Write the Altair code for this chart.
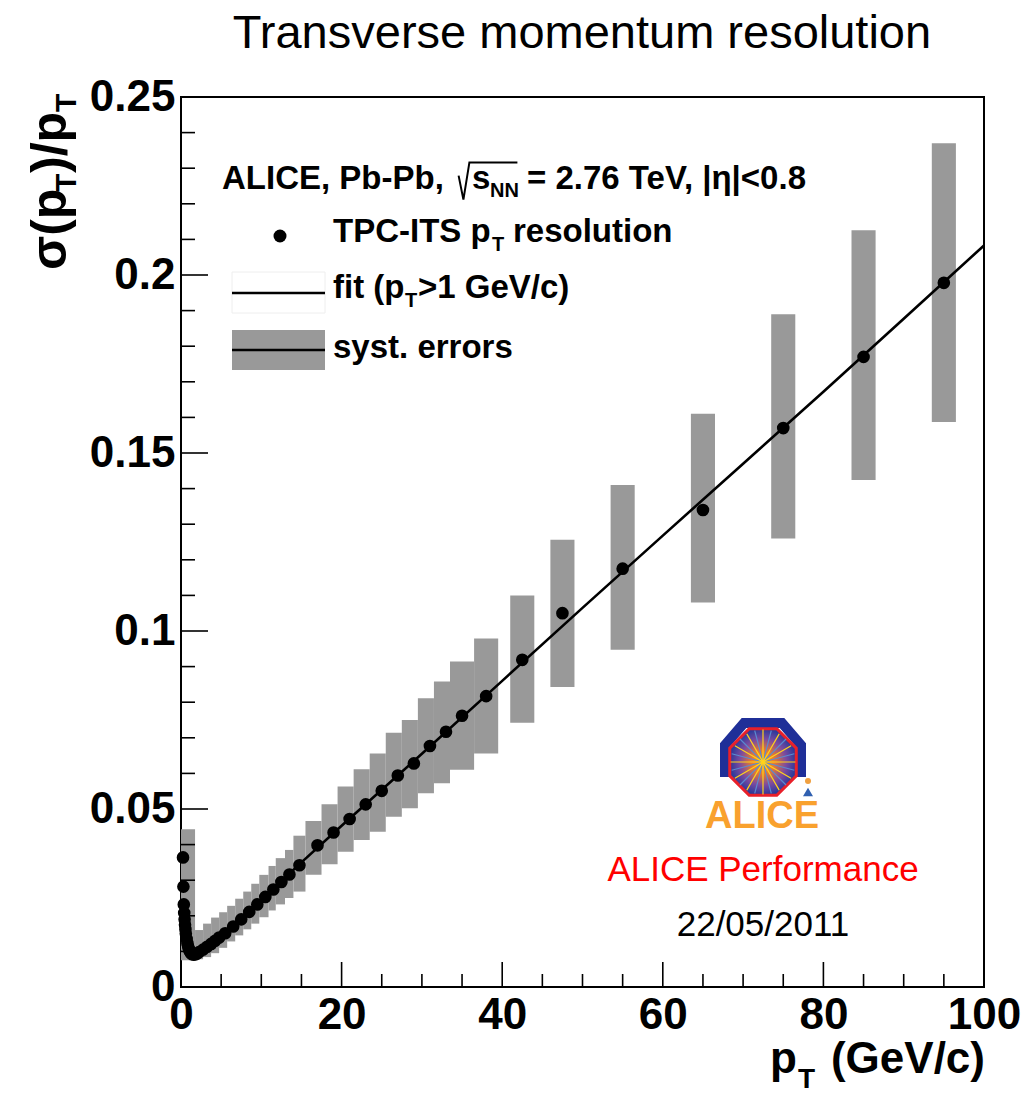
import altair as alt
import pandas as pd

# ---------------- data ----------------
pt_vals = [0.25, 0.3, 0.35, 0.4, 0.45, 0.5, 0.55, 0.6, 0.7, 0.8, 0.9, 1.0, 1.1, 1.25, 1.4, 1.6, 1.8, 2.0,
           2.25, 2.75, 3.25, 3.75, 4.25, 4.75, 5.5, 6.5, 7.5, 8.5, 9.5, 10.5, 11.5, 12.5, 13.5, 14.75,
           17, 19, 21, 23, 25, 27, 29, 31, 33, 35, 38, 42.5, 47.5, 55, 65, 75, 85, 95]
res_vals = [0.0364, 0.0282, 0.0232, 0.0208, 0.0190, 0.0175, 0.0162, 0.0150, 0.0135, 0.0123, 0.0113, 0.0106,
            0.0100, 0.0095, 0.0092, 0.0091, 0.0092, 0.0094,
            0.0098, 0.0105, 0.0113, 0.0121, 0.0130, 0.0139, 0.0151, 0.0170, 0.0190, 0.0211, 0.0232,
            0.0253, 0.0274, 0.0295, 0.0316, 0.0342,
            0.0398, 0.0434, 0.0472, 0.0513, 0.0551, 0.0594, 0.0628, 0.0677, 0.0717, 0.0762, 0.0817,
            0.0919, 0.1050, 0.1175, 0.1340, 0.1570, 0.1770, 0.1978]

fit_pt = [1, 2, 3, 5, 10, 15, 20, 30, 40, 50, 60, 70, 80, 90, 100]
fit_vals = [0.0090, 0.0097, 0.0110, 0.0148, 0.0245, 0.0350, 0.0453, 0.0655, 0.0860, 0.1065,
            0.1268, 0.1470, 0.1672, 0.1877, 0.2083]

syst_x1 = [0, 1.75, 2.75, 3.75, 4.75, 5.75, 6.75, 7.75, 8.75, 9.75, 10.9, 11.8, 12.95, 14.0,
           15.5, 17.5, 19.5, 21.5, 23.5, 25.5, 27.5, 29.5, 31.5, 33.5, 36.5,
           41.0, 46.0, 53.5, 63.5, 73.5, 83.5, 93.5]
syst_x2 = [1.75, 2.75, 3.75, 4.75, 5.75, 6.75, 7.75, 8.75, 9.75, 10.9, 11.8, 12.95, 14.0, 15.5,
           17.5, 19.5, 21.5, 23.5, 25.5, 27.5, 29.5, 31.5, 33.5, 36.5, 39.5,
           44.0, 49.0, 56.5, 66.5, 76.5, 86.5, 96.5]
syst_lo = [0.0075, 0.0078, 0.0084, 0.0095, 0.0110, 0.0128, 0.0145, 0.0162, 0.0178, 0.0196, 0.0215,
           0.0232, 0.0250, 0.0268, 0.0315, 0.0345, 0.0380, 0.0413, 0.0436, 0.0478, 0.0502, 0.0544,
           0.0572, 0.0610, 0.0656, 0.0742, 0.0843, 0.0947, 0.1080, 0.1260, 0.1424, 0.1587]
syst_hi = [0.0443, 0.0160, 0.0178, 0.0195, 0.0210, 0.0228, 0.0248, 0.0268, 0.0290, 0.0315, 0.0340,
           0.0362, 0.0385, 0.0425, 0.0466, 0.0513, 0.0563, 0.0612, 0.0656, 0.0714, 0.0750, 0.0811,
           0.0858, 0.0914, 0.0979, 0.1100, 0.1256, 0.1410, 0.1610, 0.1890, 0.2126, 0.2370]

x_major = [0, 20, 40, 60, 80, 100]
x_minor = [5, 10, 15, 25, 30, 35, 45, 50, 55, 65, 70, 75, 85, 90, 95]
y_major = [0, 0.05, 0.1, 0.15, 0.2, 0.25]
y_minor = [0.01, 0.02, 0.03, 0.04, 0.06, 0.07, 0.08, 0.09, 0.11, 0.12, 0.13, 0.14,
           0.16, 0.17, 0.18, 0.19, 0.21, 0.22, 0.23, 0.24]

# ---------------- layout ----------------
W, H = 803, 890          # plot area
X0, Y0 = 181, 97         # page position of plot-area origin
FONT = "Liberation Sans"
GRAY = "#999999"

points_df = pd.DataFrame({"pt": pt_vals, "res": res_vals})
fit_df = pd.DataFrame({"pt": fit_pt, "fit": fit_vals})
syst_df = pd.DataFrame({"x1": syst_x1, "x2": syst_x2, "lo": syst_lo, "hi": syst_hi})
one = pd.DataFrame({"a": [0]})

x_scale = alt.Scale(domain=[0, 100], nice=False, zero=False)
y_scale = alt.Scale(domain=[0, 0.25], nice=False, zero=False)
x_axis = alt.Axis(values=x_major, format="d", title="", ticks=False, tickSize=0, domain=False, grid=False,
                  labelFont=FONT, labelFontWeight="bold", labelFontSize=44, labelColor="black",
                  labelPadding=6, labelFlush=False, labelOverlap=False)
y_axis = alt.Axis(values=y_major, format="~g", title="", ticks=False, tickSize=0, domain=False, grid=False,
                  labelFont=FONT, labelFontWeight="bold", labelFontSize=44, labelColor="black",
                  labelPadding=6, labelFlush=False, labelOverlap=False)


def X(field):
    return alt.X(field, type="quantitative", scale=x_scale, axis=x_axis)


def Y(field):
    return alt.Y(field, type="quantitative", scale=y_scale, axis=y_axis)


band = alt.Chart(syst_df).mark_rect(color=GRAY, opacity=1).encode(
    x=X("x1"), x2="x2", y=Y("lo"), y2="hi")
fit = alt.Chart(fit_df).mark_line(color="black", strokeWidth=2.6).encode(x=X("pt"), y=Y("fit"))
pts = alt.Chart(points_df).mark_circle(color="black", size=160, opacity=1).encode(x=X("pt"), y=Y("res"))

xt_major = alt.Chart(pd.DataFrame({"t": x_major})).mark_rule(color="black", strokeWidth=1.6).encode(
    x=X("t"), y=alt.value(H), y2=alt.value(H - 25))
xt_minor = alt.Chart(pd.DataFrame({"t": x_minor})).mark_rule(color="black", strokeWidth=1.6).encode(
    x=X("t"), y=alt.value(H), y2=alt.value(H - 13))
yt_major = alt.Chart(pd.DataFrame({"t": y_major})).mark_rule(color="black", strokeWidth=1.6).encode(
    y=Y("t"), x=alt.value(0), x2=alt.value(27))
yt_minor = alt.Chart(pd.DataFrame({"t": y_minor})).mark_rule(color="black", strokeWidth=1.6).encode(
    y=Y("t"), x=alt.value(0), x2=alt.value(14))


def txt(s, px, py, size, bold=False, color="black", align="left", angle=None, baseline="alphabetic"):
    kw = dict(text=s, fontSize=size, font=FONT, color=color, align=align, baseline=baseline)
    if bold:
        kw["fontWeight"] = "bold"
    if angle is not None:
        kw["angle"] = angle
    return alt.Chart(one).mark_text(**kw).encode(x=alt.value(px - X0), y=alt.value(py - Y0))


def box(x1, x2, y1, y2, fill, stroke=None):
    kw = dict(fill=fill, opacity=1)
    if stroke:
        kw["stroke"] = stroke
        kw["strokeWidth"] = 1
    return alt.Chart(one).mark_rect(**kw).encode(
        x=alt.value(x1 - X0), x2=alt.value(x2 - X0), y=alt.value(y1 - Y0), y2=alt.value(y2 - Y0))


def hline(x1, x2, y, width=2.6, color="black"):
    return alt.Chart(one).mark_rule(color=color, strokeWidth=width).encode(
        x=alt.value(x1 - X0), x2=alt.value(x2 - X0), y=alt.value(y - Y0))


def sym(shape, px, py, half, fill=None, stroke=None, sw=1.0):
    kw = dict(shape=shape, size=(2 * half) ** 2, opacity=1)
    if fill is not None:
        kw["filled"] = True
        kw["fill"] = fill
    else:
        kw["filled"] = False
        kw["fill"] = "transparent"
    if stroke is not None:
        kw["stroke"] = stroke
        kw["strokeWidth"] = sw
    else:
        kw["strokeWidth"] = 0
    return alt.Chart(one).mark_point(**kw).encode(x=alt.value(px - X0), y=alt.value(py - Y0))


texts = []
# title
texts.append(txt("Transverse momentum resolution", 582, 48, 47, align="center"))
# y axis title: sigma(p_T)/p_T rotated
YB = 66
texts += [
    txt("σ(p", YB, 270, 50, bold=True, angle=270),
    txt("T", YB + 10, 192, 30, bold=True, angle=270),
    txt(")/p", YB, 173, 50, bold=True, angle=270),
    txt("T", YB + 10, 112, 30, bold=True, angle=270),
]
# x axis title
texts += [
    txt("p", 770, 1073, 44, bold=True),
    txt("T", 798, 1088, 28, bold=True),
    txt("(GeV/c)", 985, 1073, 44, bold=True, align="right"),
]
# legend header
texts += [
    txt("ALICE, Pb-Pb,", 222, 189, 33, bold=True),
    txt("s", 472, 189, 33, bold=True),
    txt("NN", 490, 197, 20, bold=True),
    txt("= 2.76 TeV, |η|<0.8", 527, 189, 33, bold=True),
]
radical = sym("M-0.98,-0.18 L-0.82,0.62 L-0.62,-0.62 L0.98,-0.62", 488, 181, 30, stroke="black", sw=2)

# legend entries
leg = [
    sym("circle", 280, 236, 6.5, fill="black"),
    txt("TPC-ITS p", 333, 242, 33, bold=True),
    txt("T", 492, 251, 20, bold=True),
    txt("resolution", 513, 242, 33, bold=True),
    box(232, 325, 272, 313, "white", stroke="#eeeeee"),
    hline(232, 325, 293),
    txt("fit (p", 333, 298, 33, bold=True),
    txt("T", 405, 307, 20, bold=True),
    txt(">1 GeV/c)", 418, 298, 33, bold=True),
    box(232, 325, 330, 370, GRAY),
    hline(232, 325, 350),
    txt("syst. errors", 333, 358, 33, bold=True),
]

# ALICE logo & performance label
octagon = "M-0.383,-0.924 L0.383,-0.924 L0.924,-0.383 L0.924,0.383 L0.383,0.924 L-0.383,0.924 L-0.924,0.383 L-0.924,-0.383 Z"
spokes_a = ("M0,0L0.9,0M0,0L0.78,0.45M0,0L0.45,0.78M0,0L0,0.9M0,0L-0.45,0.78M0,0L-0.78,0.45"
            "M0,0L-0.9,0M0,0L-0.78,-0.45M0,0L-0.45,-0.78M0,0L0,-0.9M0,0L0.45,-0.78M0,0L0.78,-0.45")
spokes_b = ("M0,0L0.87,0.23M0,0L0.64,0.64M0,0L0.23,0.87M0,0L-0.23,0.87M0,0L-0.64,0.64M0,0L-0.87,0.23"
            "M0,0L-0.87,-0.23M0,0L-0.64,-0.64M0,0L-0.23,-0.87M0,0L0.23,-0.87M0,0L0.64,-0.64M0,0L0.87,-0.23")
grad = alt.RadialGradient(gradient="radial", stops=[
    alt.GradientStop(color="#ffb000", offset=0),
    alt.GradientStop(color="#e87a30", offset=0.35),
    alt.GradientStop(color="#7a4aa0", offset=0.7),
    alt.GradientStop(color="#2a3a9a", offset=1)])
logo = [
    sym("M-1,0.71 L-1,-0.13 L-0.5,-0.71 L0.5,-0.71 L1,-0.13 L1,0.71", 763, 750, 38, stroke="#1f2f98", sw=10),
    sym(octagon, 763, 762, 36, fill=grad, stroke="#e8202a", sw=3),
    sym(spokes_b, 763, 762, 36, stroke="#5a8ad0", sw=1.2),
    sym(spokes_a, 763, 762, 36, stroke="#ffd21a", sw=1.2),
    sym("circle", 808, 781, 3, fill="#f0a040"),
    sym("triangle-up", 808, 792, 5, fill="#3060b0"),
    txt("ALICE", 762, 828, 38, bold=True, color="#f9a12e", align="center"),
    txt("ALICE Performance", 763, 881, 35, color="#ff0000", align="center"),
    txt("22/05/2011", 763, 936, 35, color="black", align="center"),
]

chart = alt.layer(
    band, fit, pts, xt_major, xt_minor, yt_major, yt_minor, radical, *texts, *leg, *logo
).properties(
    width=W, height=H,
    autosize=alt.AutoSizeParams(type="none"),
    padding={"left": X0, "top": Y0, "right": 1036 - X0 - W, "bottom": 1097 - Y0 - H},
    background="white",
).configure_view(stroke="black", strokeWidth=2)

chart.save("out.html", embed_options={"renderer": "svg", "actions": False})
